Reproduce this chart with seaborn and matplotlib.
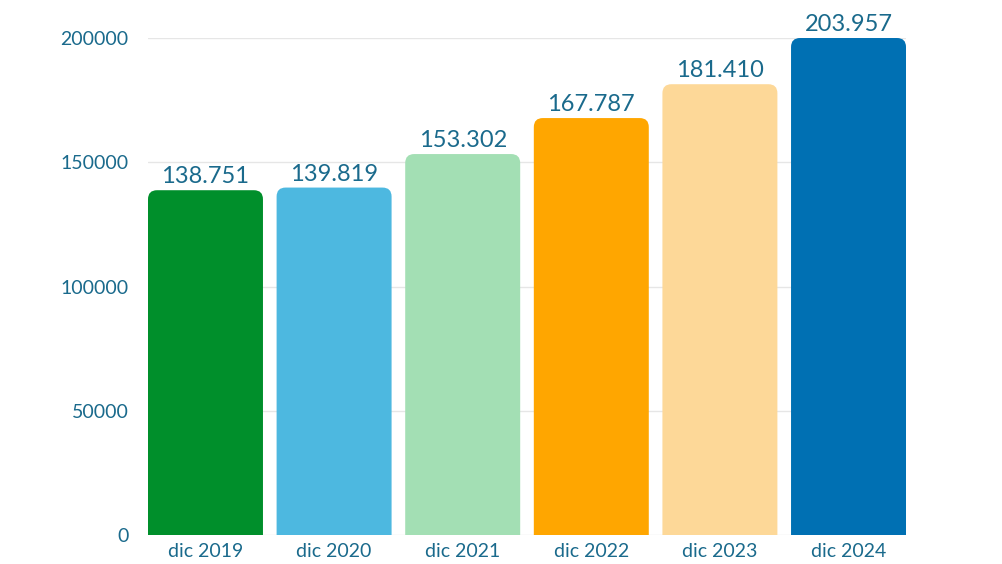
import matplotlib
matplotlib.use("Agg")
import matplotlib.pyplot as plt
from matplotlib.patches import FancyBboxPatch
import seaborn as sns
import pandas as pd

categories = ["dic 2019", "dic 2020", "dic 2021", "dic 2022", "dic 2023", "dic 2024"]
values = [138751, 139819, 153302, 167787, 181410, 203957]
labels = ["138.751", "139.819", "153.302", "167.787", "181.410", "203.957"]
colors = ["#008F2B", "#4DB8E0", "#A3DFB4", "#FFA600", "#FDD898", "#0070B3"]
yticks = [0, 50000, 100000, 150000, 200000]

sns.set_style("white")
plt.rcParams["font.family"] = ["Lato", "DejaVu Sans"]
text_color = "#1A6A8C"

df = pd.DataFrame({"cat": categories, "val": values})

fig = plt.figure(figsize=(10.02, 5.64), dpi=100)
ax = fig.add_axes([0.1477, 0.0514, 0.9042 - 0.1477, 0.9326 - 0.0514])

sns.barplot(data=df, x="cat", y="val", hue="cat", palette=colors, legend=False,
            width=0.894, ax=ax, saturation=1)

ymax = 200000
ax.set_ylim(0, ymax)
ax.set_xlim(-0.447, 5.447)

# aspect to make rounded corners circular in pixels
fig.canvas.draw()
bbox = ax.get_window_extent()
xpp = (ax.get_xlim()[1] - ax.get_xlim()[0]) / bbox.width
ypp = (ax.get_ylim()[1] - ax.get_ylim()[0]) / bbox.height
aspect = ypp / xpp
r = 9 * xpp

for p, lab in zip(list(ax.patches), labels):
    x0 = p.get_x()
    w = p.get_width()
    h = min(p.get_height(), ymax)
    fc = p.get_facecolor()
    p.set_visible(False)
    bottom = -30 * ypp
    fb = FancyBboxPatch((x0, bottom), w, h - bottom,
                        boxstyle=f"round,pad=0,rounding_size={r}",
                        mutation_aspect=aspect, facecolor=fc, edgecolor="none",
                        zorder=3, clip_on=True)
    ax.add_patch(fb)
    ax.text(x0 + w / 2, h + 3 * ypp, lab, ha="center", va="bottom",
            fontsize=17, color=text_color, clip_on=False, zorder=4)

ax.set_yticks(yticks)
ax.set_yticklabels([str(t) for t in yticks])
ax.grid(axis="y", color="#E6E6E6", linewidth=1, zorder=0)
ax.set_axisbelow(True)
for s in ax.spines.values():
    s.set_visible(False)
ax.tick_params(axis="y", length=0, pad=14, labelsize=14, labelcolor=text_color)
ax.tick_params(axis="x", length=0, pad=6, labelsize=14, labelcolor=text_color)
ax.set_xlabel("")
ax.set_ylabel("")

fig.savefig("out.png", dpi=100)
